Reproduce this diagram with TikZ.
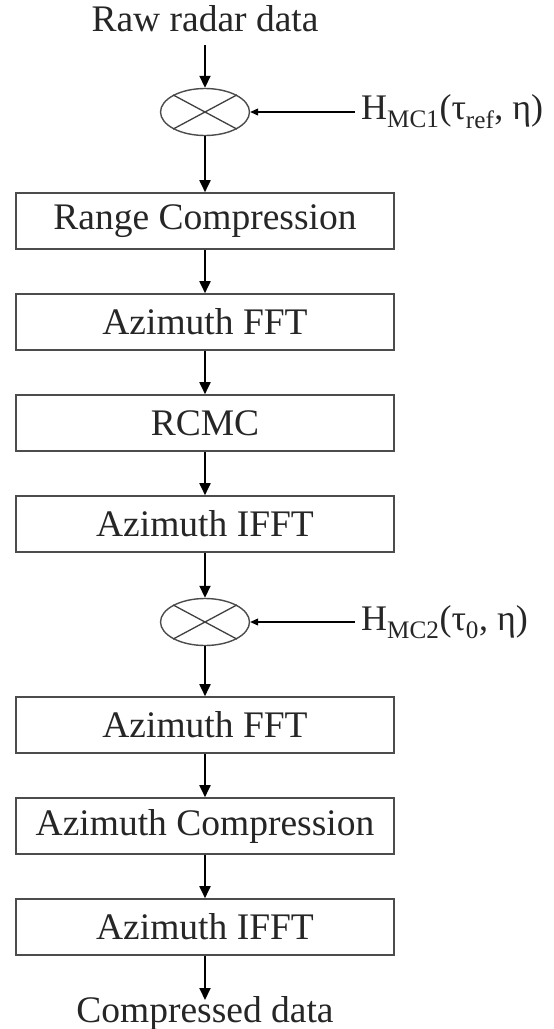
\documentclass[tikz,border=0pt]{standalone}
\usepackage{fontspec}
\setmainfont{Liberation Serif}
\usetikzlibrary{shapes.geometric,arrows.meta}
\begin{document}
\begin{tikzpicture}[x=1pt,y=-1pt,
  box/.style={draw=black!70, line width=1.6pt, minimum width=378pt, minimum height=56pt, inner sep=0pt, text=black!85, font=\fontsize{37.5}{42}\selectfont},
  mult/.style={ellipse, draw=black!70, line width=1.4pt, minimum width=89pt, minimum height=47pt, inner sep=0pt},
  cross/.style={draw=black!75, line width=1.3pt},
  arr/.style={line width=1.8pt, -{Triangle[width=11pt,length=12pt]}},
  sarr/.style={line width=1.2pt, -{Triangle[width=7pt,length=8pt]}},
  lbl/.style={font=\fontsize{37.5}{42}\selectfont, text=black!85, inner sep=0pt},
  hlbl/.style={font=\fontsize{36}{40}\selectfont, text=black!85, inner sep=6pt, anchor=west}]
\useasboundingbox (0,0) rectangle (554,1029);

\node[lbl, anchor=base] (raw) at (205,31) {Raw radar data};
\node[mult] (e1) at (205,112) {};
\draw[cross] (e1.north west) -- (e1.south east) (e1.north east) -- (e1.south west);
\node[hlbl] (h1) at (355,112) {H\textsubscript{MC1}(τ\textsubscript{ref}, η)};

\node[box] (b1) at (205,221) {Range Compression};
\node[box] (b2) at (205,322) {Azimuth FFT};
\node[box] (b3) at (205,423) {RCMC};
\node[box] (b4) at (205,524) {Azimuth IFFT};

\node[mult] (e2) at (205,622) {};
\draw[cross] (e2.north west) -- (e2.south east) (e2.north east) -- (e2.south west);
\node[hlbl] (h2) at (355,622) {H\textsubscript{MC2}(τ\textsubscript{0}, η)};

\node[box] (b5) at (205,725) {Azimuth FFT};
\node[box] (b6) at (205,826) {Azimuth Compression};
\node[box] (b7) at (205,927) {Azimuth IFFT};

\node[lbl, anchor=base] (out) at (205,1022) {Compressed data};
\coordinate (tip) at (205,1000);
\coordinate (top) at (205,45);

\draw[arr] (top) -- (e1.north);
\draw[arr] (e1.south) -- (b1.north);
\draw[arr] (b1.south) -- (b2.north);
\draw[arr] (b2.south) -- (b3.north);
\draw[arr] (b3.south) -- (b4.north);
\draw[arr] (b4.south) -- (e2.north);
\draw[arr] (e2.south) -- (b5.north);
\draw[arr] (b5.south) -- (b6.north);
\draw[arr] (b6.south) -- (b7.north);
\draw[arr] (b7.south) -- (tip);
\draw[sarr] (h1.west) -- (e1.east);
\draw[sarr] (h2.west) -- (e2.east);
\end{tikzpicture}
\end{document}
